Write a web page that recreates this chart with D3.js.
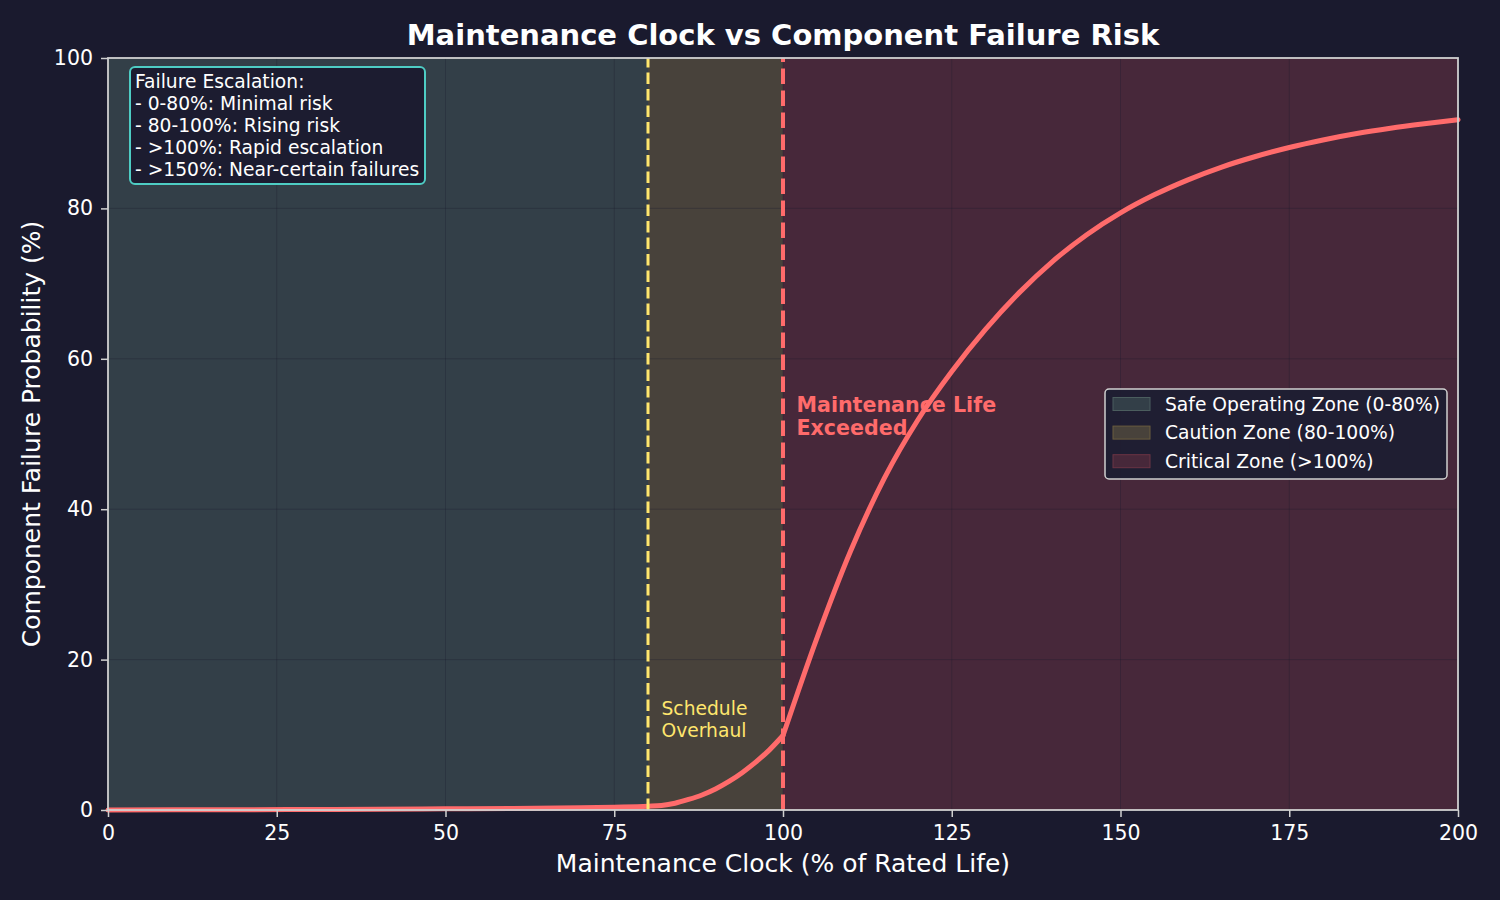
<!DOCTYPE html>
<html>
<head>
<meta charset="utf-8">
<script src="https://cdn.jsdelivr.net/npm/d3@7"></script>
<style>
  html, body { margin: 0; padding: 0; background: #1a1a2e; }
  svg { display: block; font-family: "DejaVu Sans", sans-serif; }
</style>
</head>
<body>
<svg id="chart" width="1500" height="900"></svg>
<script>
// maintenance clock (% of rated life) and read-off failure probability (%)
var clockPct = [0, 10, 20, 30, 40, 50, 60, 70, 75, 80, 82, 84, 86, 88, 90, 92, 94, 96, 98, 100,
                105, 110, 115, 120, 125, 130, 135, 140, 145, 150,
                155, 160, 165, 170, 175, 180, 185, 190, 195, 200];
var failureProb = [0.0, 0.02, 0.04, 0.07, 0.1, 0.15, 0.2, 0.3, 0.38, 0.5, 0.6, 0.9, 1.4, 2.0, 2.8, 3.8, 5.0, 6.4, 8.0, 9.9,
                   22.8, 34.4, 44.1, 51.9, 58.3, 63.9, 68.8, 73.0, 76.5, 79.4,
                   81.8, 83.8, 85.5, 86.9, 88.1, 89.1, 89.95, 90.65, 91.25, 91.8];

var xTicks = [0, 25, 50, 75, 100, 125, 150, 175, 200];
var yTicks = [0, 20, 40, 60, 80, 100];

var zoneNames = ["Safe Operating Zone (0-80%)", "Caution Zone (80-100%)", "Critical Zone (>100%)"];
var zoneStart = [0, 80, 100];
var zoneEnd = [80, 100, 200];

var noteLines = ["Failure Escalation:", "- 0-80%: Minimal risk", "- 80-100%: Rising risk",
                 "- >100%: Rapid escalation", "- >150%: Near-certain failures"];

var zoneFill = ["#333f48", "#48423b", "#47283a"];
var zoneEdge = ["#4b5d5e", "#6a5d3e", "#6b3444"];

var svg = d3.select("#chart");
// plot box (note: "top" is a reserved window property, so use pl/pr/pt/pb)
var pl = 108, pr = 1458, pt = 58, pb = 810;

var x = d3.scaleLinear().domain([0, 200]).range([pl, pr]);
var y = d3.scaleLinear().domain([0, 100]).range([pb, pt]);

// zones
svg.selectAll("rect.zone").data(zoneNames).enter().append("rect")
   .attr("class", "zone")
   .attr("x", function(d, i){ return x(zoneStart[i]); })
   .attr("y", pt)
   .attr("width", function(d, i){ return x(zoneEnd[i]) - x(zoneStart[i]); })
   .attr("height", pb - pt)
   .attr("fill", function(d, i){ return zoneFill[i]; });

// grid
var grid = svg.append("g").attr("stroke", "#1a1a2e").attr("stroke-opacity", 0.3).attr("stroke-width", 1);
xTicks.slice(1, -1).forEach(function(t){
   grid.append("line").attr("x1", x(t)).attr("x2", x(t)).attr("y1", pt).attr("y2", pb);
});
yTicks.slice(1, -1).forEach(function(t){
   grid.append("line").attr("x1", pl).attr("x2", pr).attr("y1", y(t)).attr("y2", y(t));
});

// zone text labels
svg.append("text").attr("x", x(82)).attr("y", y(15) + 18)
   .attr("fill", "#ffe66d").attr("font-size", "18.7px").text("Schedule");
svg.append("text").attr("x", x(82)).attr("y", y(15) + 40)
   .attr("fill", "#ffe66d").attr("font-size", "18.7px").text("Overhaul");
svg.append("text").attr("x", x(102)).attr("y", y(55) + 15.5)
   .attr("fill", "#ff6b6b").attr("font-size", "20.6px").attr("font-weight", "bold").text("Maintenance Life");
svg.append("text").attr("x", x(102)).attr("y", y(55) + 38.5)
   .attr("fill", "#ff6b6b").attr("font-size", "20.6px").attr("font-weight", "bold").text("Exceeded");

// risk curve, drawn in two parts so the kink at 100% stays sharp
var pts = clockPct.map(function(c, i){ return [c, failureProb[i]]; });
var line = d3.line().x(function(d){ return x(d[0]); }).y(function(d){ return y(d[1]); }).curve(d3.curveMonotoneX);
[pts.filter(function(d){ return d[0] <= 100; }), pts.filter(function(d){ return d[0] >= 100; })].forEach(function(seg){
   svg.append("path").attr("d", line(seg))
      .attr("fill", "none").attr("stroke", "#ff6b6b").attr("stroke-width", 5)
      .attr("stroke-linejoin", "round").attr("stroke-linecap", "round");
});

// threshold lines
svg.append("line").attr("x1", x(80)).attr("x2", x(80)).attr("y1", pb).attr("y2", pt)
   .attr("stroke", "#ffe66d").attr("stroke-width", 3).attr("stroke-dasharray", "11.5,5");
svg.append("line").attr("x1", x(100)).attr("x2", x(100)).attr("y1", pb).attr("y2", pt)
   .attr("stroke", "#ff6b6b").attr("stroke-width", 4).attr("stroke-dasharray", "15.5,6.5");

// axes
var xAxis = svg.append("g").attr("transform", "translate(0," + pb + ")")
   .call(d3.axisBottom(x).tickValues(xTicks).tickSize(7).tickPadding(8));
var yAxis = svg.append("g").attr("transform", "translate(" + pl + ",0)")
   .call(d3.axisLeft(y).tickValues(yTicks).tickSize(7).tickPadding(8));
[xAxis, yAxis].forEach(function(ax){
   ax.select(".domain").remove();
   ax.selectAll(".tick line").attr("stroke", "#d0d0d0").attr("stroke-width", 1.5);
   ax.selectAll(".tick text").attr("fill", "#ffffff").attr("font-size", "20.5px").attr("font-family", "DejaVu Sans");
});
svg.append("rect").attr("x", pl).attr("y", pt).attr("width", pr - pl).attr("height", pb - pt)
   .attr("fill", "none").attr("stroke", "#d0d0d0").attr("stroke-width", 1.8);

// titles
svg.append("text").attr("x", (pl + pr) / 2).attr("y", 45).attr("text-anchor", "middle")
   .attr("fill", "#ffffff").attr("font-size", "29px").attr("font-weight", "bold")
   .text("Maintenance Clock vs Component Failure Risk");
svg.append("text").attr("x", (pl + pr) / 2).attr("y", 872).attr("text-anchor", "middle")
   .attr("fill", "#ffffff").attr("font-size", "25px").text("Maintenance Clock (% of Rated Life)");
svg.append("text").attr("transform", "translate(40," + ((pt + pb) / 2) + ") rotate(-90)")
   .attr("text-anchor", "middle").attr("fill", "#ffffff").attr("font-size", "25px")
   .text("Component Failure Probability (%)");

// note box
var note = svg.append("g");
note.append("rect").attr("x", 130).attr("y", 67).attr("width", 295).attr("height", 117).attr("rx", 5)
   .attr("fill", "#1c1c30").attr("stroke", "#4ecdc4").attr("stroke-width", 2);
note.selectAll("text").data(noteLines).enter().append("text")
   .attr("x", 135).attr("y", function(d, i){ return 88 + i * 22.1; })
   .attr("fill", "#ffffff").attr("font-size", "18.7px").text(function(d){ return d; });

// legend
var legend = svg.append("g");
legend.append("rect").attr("x", 1105).attr("y", 389).attr("width", 342).attr("height", 90).attr("rx", 4)
   .attr("fill", "#1e1d31").attr("fill-opacity", 0.95).attr("stroke", "#d0d0d0").attr("stroke-width", 1.5);
zoneNames.forEach(function(name, i){
   var cy = 404 + i * 28.6;
   legend.append("rect").attr("x", 1113).attr("y", cy - 6.5).attr("width", 37).attr("height", 13)
      .attr("fill", zoneFill[i]).attr("stroke", zoneEdge[i]).attr("stroke-width", 1);
   legend.append("text").attr("x", 1165).attr("y", cy + 6.5).attr("fill", "#ffffff")
      .attr("font-size", "18.7px").text(name);
});
</script>
</body>
</html>
